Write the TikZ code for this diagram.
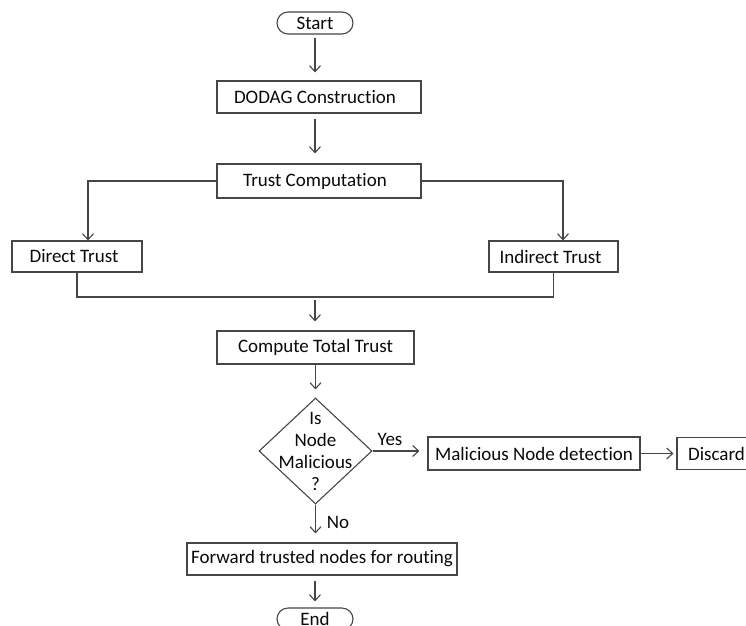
\documentclass[tikz,border=0pt]{standalone}
\usepackage{fontspec}
\setmainfont{Carlito}[Ligatures=NoCommon]
\usetikzlibrary{arrows.meta,shapes.geometric,shapes.misc}
\definecolor{linec}{RGB}{70,70,70}
\definecolor{textc}{RGB}{10,10,10}
\tikzset{
  box/.style={draw=linec, line width=1.1pt, rectangle, inner sep=0pt, text=textc, font=\fontsize{19}{22}\selectfont},
  term/.style={draw=linec, line width=1.1pt, rounded rectangle, inner sep=0pt, text=textc, font=\fontsize{19}{22}\selectfont, minimum width=76pt, minimum height=22pt},
  conn/.style={draw=linec, line width=1.1pt},
  arr/.style={conn, -{Straight Barb[length=6pt,width=11pt,line width=1.1pt]}},
  lbl/.style={text=textc, font=\fontsize{19}{22}\selectfont, inner sep=0pt},
}
\begin{document}
\begin{tikzpicture}[x=1pt,y=-1pt]
\useasboundingbox[fill=white] (0,0) rectangle (746,625);
\node[term] (start) at (315,23) {Start};
\node[box, minimum width=204pt, minimum height=32pt] (dodag) at (319,97) {DODAG Construction\hspace*{8pt}};
\node[box, minimum width=204pt, minimum height=34pt] (trust) at (319,181) {Trust Computation\hspace*{8pt}};
\node[box, minimum width=130pt, minimum height=31pt] (dt) at (77,256.5) {Direct Trust\hspace*{6pt}};
\node[box, minimum width=129pt, minimum height=31pt] (it) at (553.5,256.5) {Indirect Trust\hspace*{6pt}};
\coordinate (mj) at (315,297);
\node[box, minimum width=197pt, minimum height=33pt] (ctt) at (315.5,347.5) {Compute Total Trust};
\node[draw=linec, line width=1.1pt, diamond, inner sep=0pt, minimum width=113pt, minimum height=106pt] (dec) at (315.5,451) {};
\node[lbl, align=center] (dectext) at (315.5,451) {Is\\Node\\Malicious\\?};
\node[box, minimum width=212pt, minimum height=33pt] (mal) at (534,453.5) {Malicious Node detection};
\node[box, minimum width=79pt, minimum height=32pt] (disc) at (716.5,453.5) {Discard};
\node[box, minimum width=270pt, minimum height=32pt] (fwd) at (322,559) {Forward trusted nodes for routing};
\node[term] (end) at (315,619) {End};
\node[lbl] (yes) at (390,439) {Yes};
\node[lbl] (no) at (338,522) {No};
% connectors
\draw[arr, shorten <=3pt, shorten >=8pt] (start.south) -- (start.south |- dodag.north);
\draw[arr, shorten <=5pt, shorten >=10pt] (dodag.south -| start.south) -- (start.south |- trust.north);
\draw[arr] (trust.west) -| ([xshift=11pt]dt.north);
\draw[arr] (trust.east) -| ([xshift=9.5pt]it.north);
\draw[conn] (dt.south) |- (mj) -| (it.south);
\draw[arr, shorten <=3pt, shorten >=9pt] (mj) -- (mj |- ctt.north);
\draw[arr, shorten >=8pt] (ctt.south -| dec.north) -- (dec.north);
\draw[arr, shorten >=8pt] (dec.east) -- (mal.west |- dec.east);
\draw[arr, shorten >=3pt] (mal.east) -- (disc.west);
\draw[arr, shorten >=9pt] (dec.south) -- (dec.south |- fwd.north);
\draw[arr, shorten <=5pt, shorten >=6pt] (fwd.south -| end.north) -- (end.north);
\end{tikzpicture}
\end{document}
